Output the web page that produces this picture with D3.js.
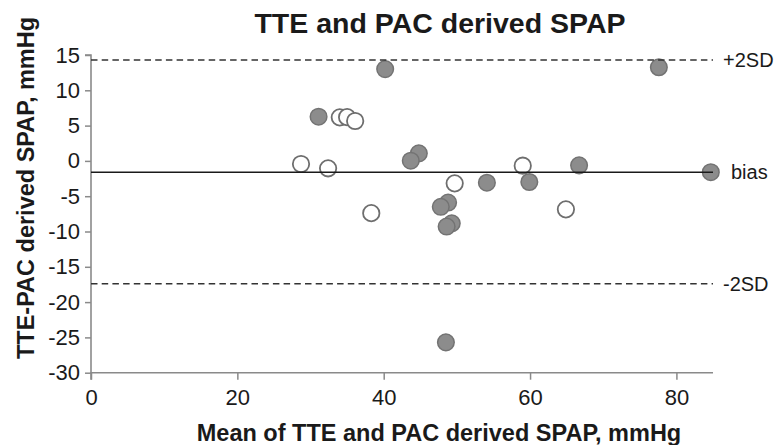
<!DOCTYPE html>
<html><head><meta charset="utf-8">
<script src="https://cdn.jsdelivr.net/npm/d3@7"></script>
<style>body{margin:0;background:#fff}svg{display:block}text{font-family:"Liberation Sans",Arial,Helvetica,sans-serif}</style>
</head><body><div id="chart"></div>
<script>
// Filled circles
const filledX = [31.1, 40.2, 77.6, 44.8, 43.7, 66.7, 54.1, 59.9, 48.8, 47.8, 49.3, 48.6, 48.5, 84.7];
const filledY = [6.26, 13.0, 13.26, 1.07, 0.03, -0.63, -3.09, -2.99, -5.9, -6.5, -8.84, -9.3, -25.7, -1.6];
// Open circles
const openX = [34.0, 35.0, 36.1, 28.7, 32.4, 59.0, 49.7, 64.9, 38.3];
const openY = [6.17, 6.2, 5.65, -0.44, -1.05, -0.68, -3.18, -6.86, -7.4];
// Reference lines
const refNames = ["+2SD", "bias", "-2SD"];
const refValues = [14.3, -1.6, -17.4];
const xTicks = [0, 20, 40, 60, 80];
const yTicks = [15, 10, 5, 0, -5, -10, -15, -20, -25, -30];
const title = "TTE and PAC derived SPAP";
const xLabel = "Mean of TTE and PAC derived SPAP, mmHg";
const yLabel = "TTE-PAC derived SPAP, mmHg";

const W = 780, H = 445;
const svg = d3.select("#chart").append("svg").attr("width", W).attr("height", H);
const x = d3.scaleLinear().domain([0, 85]).range([91, 713]);
const y = d3.scaleLinear().domain([-30, 15]).range([372.7, 55]);

const axisColor = "#8a8a8a";
// axes
const gx = svg.append("g").attr("transform", `translate(0,${y(-30)})`)
  .call(d3.axisBottom(x).tickValues(xTicks).tickSize(7).tickPadding(10).tickFormat(d3.format("d")));
const gy = svg.append("g").attr("transform", `translate(${x(0)},0)`)
  .call(d3.axisLeft(y).tickValues(yTicks).tickSize(6).tickPadding(5).tickFormat(d => d));
[gx, gy].forEach(g => {
  g.select(".domain").attr("stroke", axisColor).attr("stroke-width", 1.6);
  g.selectAll(".tick line").attr("stroke", axisColor).attr("stroke-width", 1.5);
  g.selectAll(".tick text").attr("fill", "#1a1a1a").style("font-size", "22px");
});
gy.select(".domain").attr("d", `M-6,${y(15)}H0V${y(-30)}`);
gx.select(".domain").attr("d", `M${x(0)},7V0H${x(85)}`);

// points
const filled = filledX.map((v, i) => ({x: v, y: filledY[i]}));
const open = openX.map((v, i) => ({x: v, y: openY[i]}));
svg.append("g").selectAll("circle").data(open).join("circle")
  .attr("cx", d => x(d.x)).attr("cy", d => y(d.y)).attr("r", 8.2)
  .attr("fill", "#fff").attr("stroke", "#6e6e6e").attr("stroke-width", 1.8);
svg.append("g").selectAll("circle").data(filled).join("circle")
  .attr("cx", d => x(d.x)).attr("cy", d => y(d.y)).attr("r", 8.3)
  .attr("fill", "#8c8c8c").attr("stroke", "#737373").attr("stroke-width", 1.5);

// reference lines
const refs = refNames.map((n, i) => ({name: n, v: refValues[i]}));
svg.append("g").selectAll("line").data(refs).join("line")
  .attr("x1", x(0)).attr("x2", x(85)).attr("y1", d => y(d.v)).attr("y2", d => y(d.v))
  .attr("stroke", d => d.name === "bias" ? "#1a1a1a" : "#333")
  .attr("stroke-width", 1.6)
  .attr("stroke-dasharray", d => d.name === "bias" ? null : "6.5,4.2");
svg.append("g").selectAll("text").data(refs).join("text")
  .attr("x", d => d.name === "bias" ? 731 : 723).attr("y", d => y(d.v)).attr("dy", "0.35em")
  .attr("fill", "#1a1a1a").style("font-size", "20px").text(d => d.name);

// titles
svg.append("text").attr("x", 440).attr("y", 33).attr("text-anchor", "middle")
  .style("font-size", "28.5px").style("font-weight", "bold").attr("fill", "#1a1a1a").text(title);
svg.append("text").attr("x", 439).attr("y", 441).attr("text-anchor", "middle")
  .style("font-size", "23.5px").style("font-weight", "bold").attr("fill", "#1a1a1a").text(xLabel);
svg.append("text").attr("transform", "translate(34,188) rotate(-90)").attr("text-anchor", "middle")
  .style("font-size", "23.5px").style("font-weight", "bold").attr("fill", "#1a1a1a").text(yLabel);
</script></body></html>
